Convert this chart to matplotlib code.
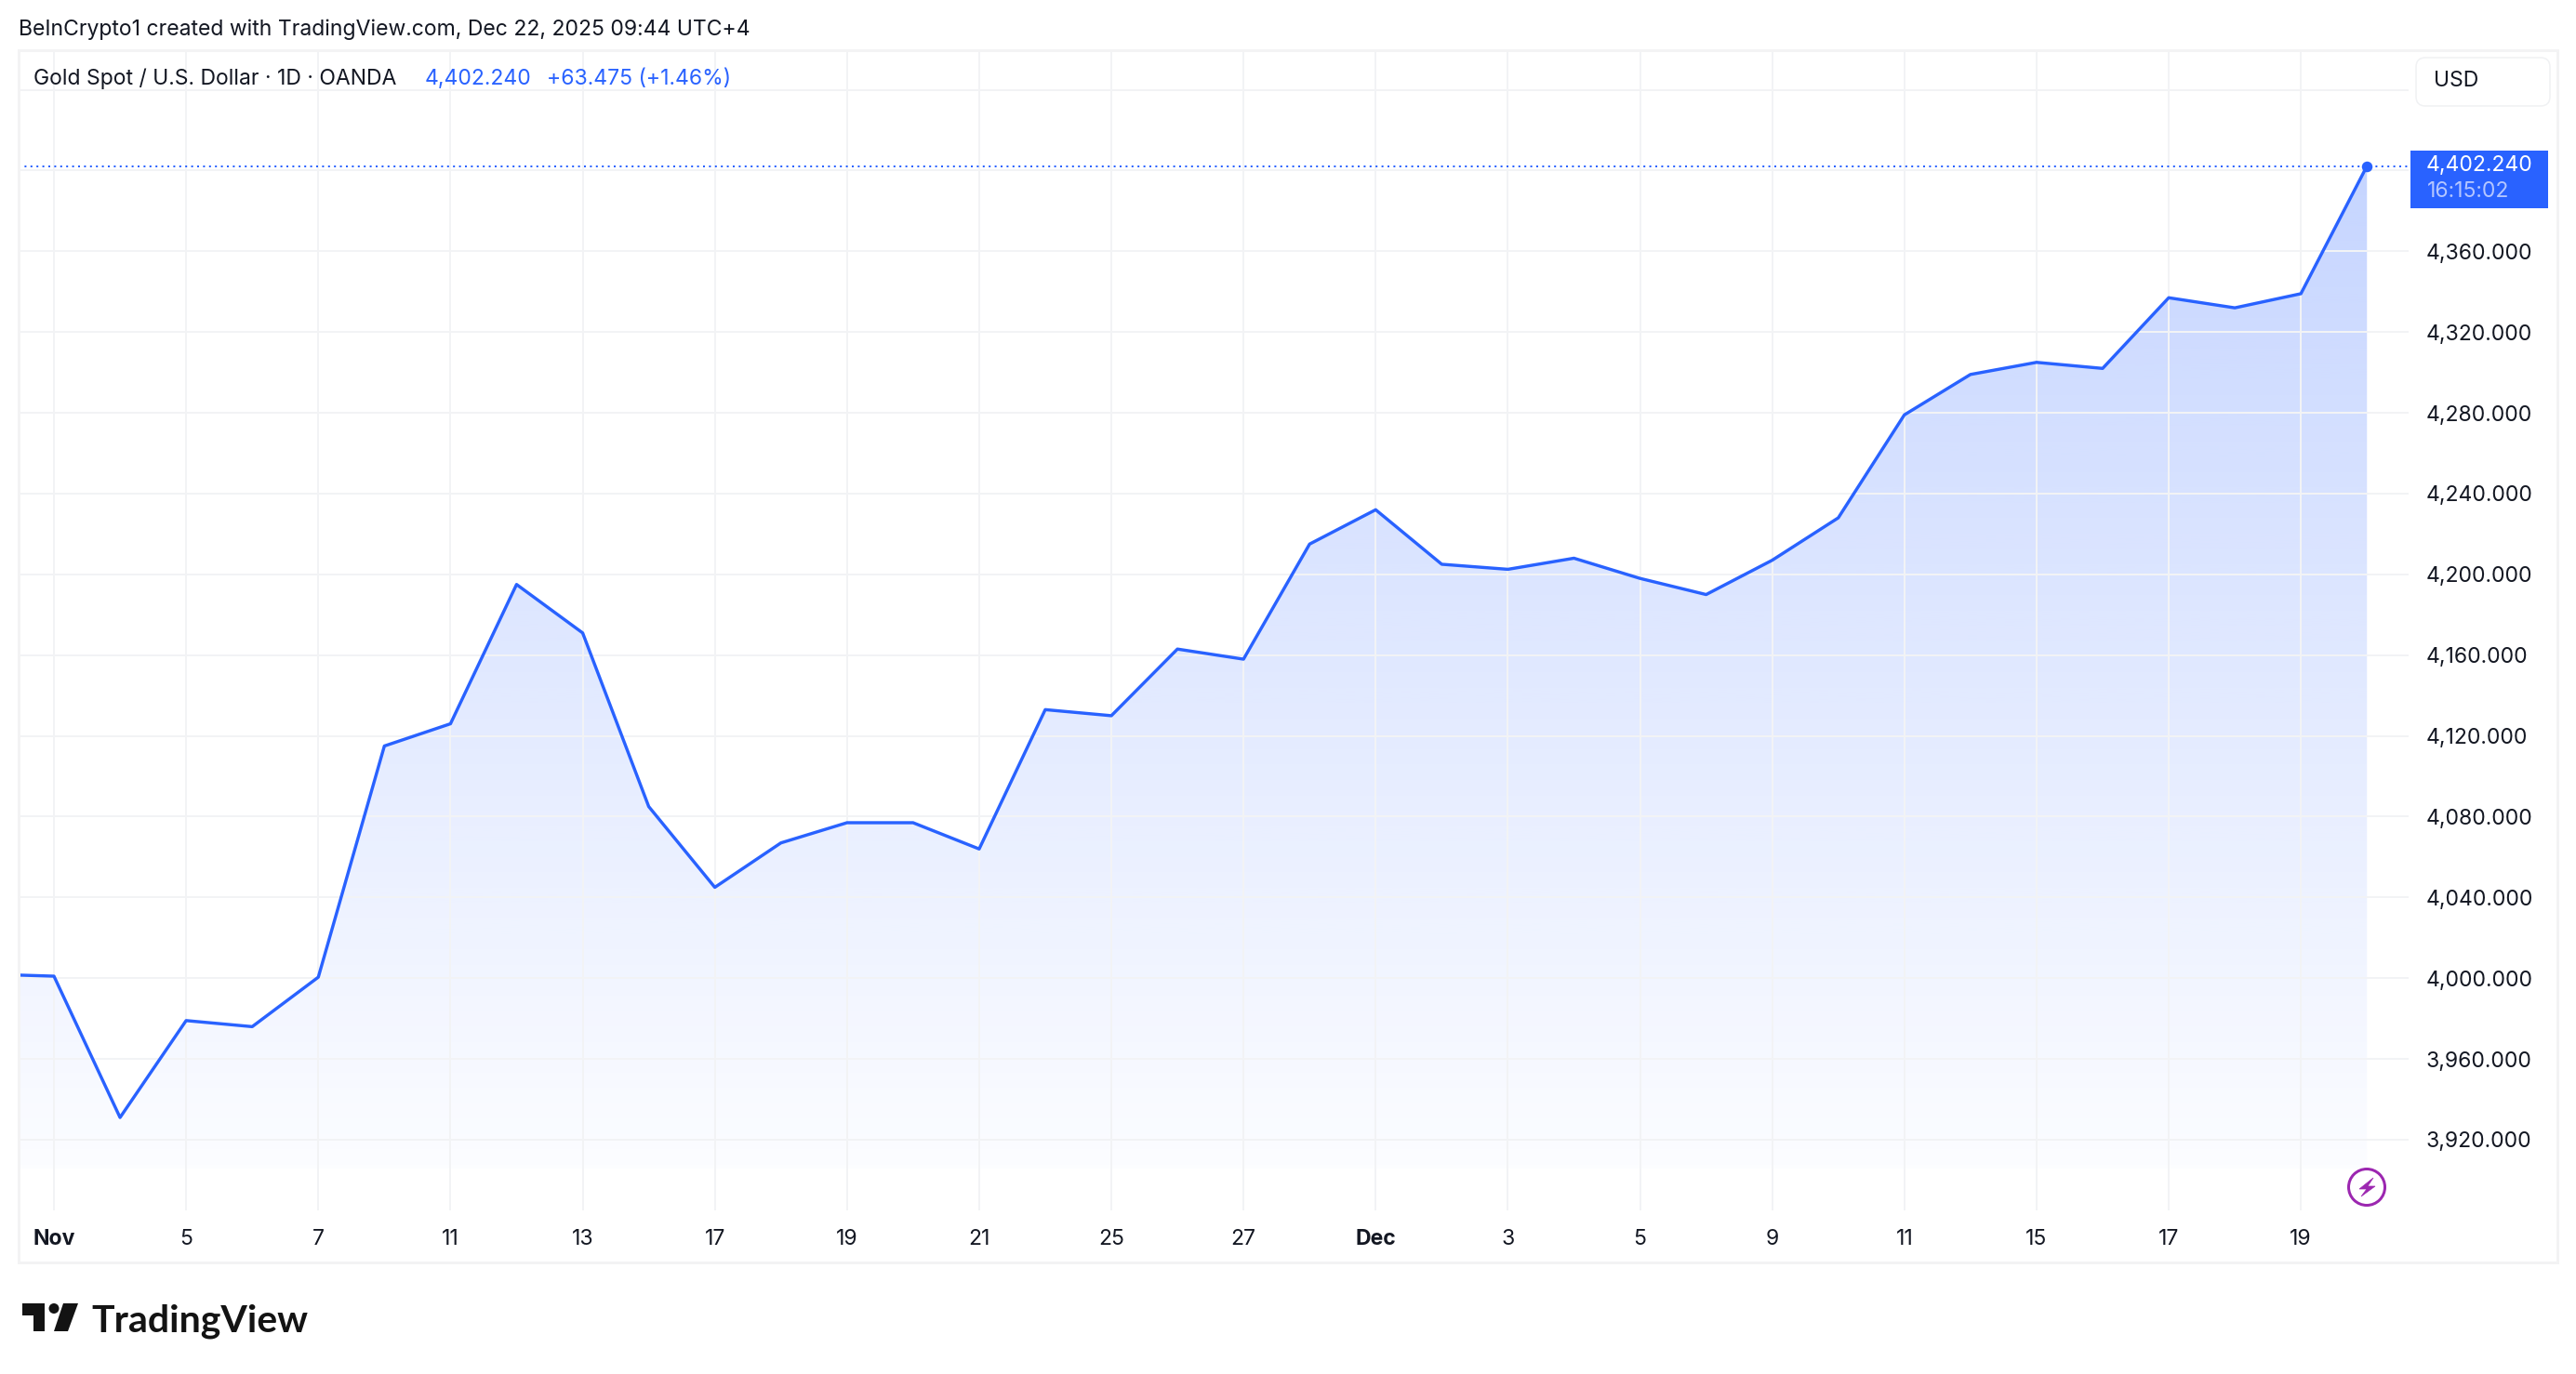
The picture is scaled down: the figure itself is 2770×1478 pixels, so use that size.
import numpy as np
import matplotlib
matplotlib.use('Agg')
import matplotlib.pyplot as plt
import matplotlib.patches as patches
from matplotlib.colors import to_rgb

plt.rcParams['font.family'] = ['Inter', 'DejaVu Sans']

# ---- data ----
# session number, 0 is the first session under the "Nov" label, -1 is cut by the left edge
sessions = list(range(-1, 36))
closes = [4002, 4001, 3931, 3979, 3976, 4000.5, 4115, 4126, 4195, 4171, 4085, 4045, 4067,
          4077, 4077, 4064, 4133, 4130, 4163, 4158, 4215, 4232, 4205, 4202.5, 4208, 4198,
          4190, 4207, 4228, 4279, 4299, 4305, 4302, 4337, 4332, 4339, 4402.24]
date_ticks = list(range(0, 35, 2))
date_labels = ['Nov', '5', '7', '11', '13', '17', '19', '21', '25', '27',
               'Dec', '3', '5', '9', '11', '15', '17', '19']
price_ticks = list(range(3920, 4400, 40))
price_labels = [f"{p:,}.000" for p in price_ticks]
hidden_grid = [4400, 4440]

BLUE = '#2962FF'
GRID = '#F2F3F5'
TEXT = '#131722'
W, H = 2770, 1478


def px(n):
    # pixels to points at dpi 100
    return n * 0.72


fig = plt.figure(figsize=(W / 100, H / 100), dpi=100, facecolor='white')

# main pane, pixel box 20..2590 / 54..1302
ax = fig.add_axes([20 / W, 1 - 1302 / H, (2590 - 20) / W, (1302 - 54) / H])
x0, x1 = -0.535, 35.63
y0, y1 = 3885, 4459.6
for s in ax.spines.values():
    s.set_visible(False)

ax.set_xticks(date_ticks, date_labels)
ax.set_yticks(price_ticks, price_labels)
ax.yaxis.tick_right()
ax.tick_params(axis='both', length=0, colors=TEXT)
ax.tick_params(axis='x', labelsize=px(23), pad=px(20))
ax.tick_params(axis='y', labelsize=px(23), pad=px(19))
for lab in ax.get_xticklabels():
    if lab.get_text() in ('Nov', 'Dec'):
        lab.set_fontweight('bold')
ax.grid(True, color=GRID, lw=px(2), zorder=0)
for g in hidden_grid:
    ax.axhline(g, color=GRID, lw=px(2), zorder=0)

# area fill, gradient clipped to the line
fill_bottom = 3905.7
rgb = to_rgb(BLUE)
n = 512
grad = np.zeros((n, 1, 4))
grad[:, 0, :3] = rgb
grad[:, 0, 3] = np.linspace(0.27, 0.015, n)
top = max(closes)
im = ax.imshow(grad, extent=[sessions[0], sessions[-1], fill_bottom, top],
               aspect='auto', origin='upper', zorder=1, interpolation='bilinear')
poly = patches.Polygon(list(zip(sessions, closes)) + [(sessions[-1], fill_bottom), (sessions[0], fill_bottom)],
                       closed=True, transform=ax.transData, fc='none', ec='none')
ax.add_patch(poly)
im.set_clip_path(poly)

ax.plot(sessions, closes, color=BLUE, lw=px(3.4), zorder=3, solid_joinstyle='round')
ax.axhline(closes[-1], color=BLUE, lw=px(2), ls=(0, (1, 2.2)), zorder=2)
ax.plot(sessions[-1:], closes[-1:], 'o', color=BLUE, ms=px(11.5), mec='none', zorder=4)
ax.set_xlim(x0, x1)
ax.set_ylim(y0, y1)

# overlay in pixel coordinates for the frame, header and logo
ov = fig.add_axes([0, 0, 1, 1], facecolor='none')
ov.set_xlim(0, W)
ov.set_ylim(H, 0)
ov.axis('off')

ov.add_patch(patches.Rectangle((20, 54), 2730, 1304, fc='none', ec='#F3F3F4', lw=px(3)))
ov.text(20, 32, 'BeInCrypto1 created with TradingView.com, Dec 22, 2025 09:44 UTC+4',
        fontsize=px(23), color=TEXT, va='center', ha='left')
ov.text(36, 85, 'Gold Spot / U.S. Dollar · 1D · OANDA', fontsize=px(23), color=TEXT, va='center')
ov.text(457, 85, '4,402.240', fontsize=px(23), color=BLUE, va='center')
ov.text(588, 85, '+63.475 (+1.46%)', fontsize=px(23), color=BLUE, va='center')

# currency button
ov.add_patch(patches.FancyBboxPatch((2606, 70), 128, 36, boxstyle='round,pad=8,rounding_size=10',
                                    fc='white', ec='#F0F1F3', lw=px(1.5)))
ov.text(2617, 87, 'USD', fontsize=px(23), color=TEXT, va='center')

# last price tag
ov.add_patch(patches.Rectangle((2592, 162), 148, 62, fc=BLUE, ec='none'))
ov.text(2609, 178, '4,402.240', fontsize=px(23), color='white', va='center')
ov.text(2610, 206, '16:15:02', fontsize=px(23), color='#B4C6FF', va='center')

# bolt badge
PURPLE = '#9C27B0'
ov.add_patch(patches.Circle((2545, 1277), 19.5, fc='white', ec=PURPLE, lw=px(3)))
ov.add_patch(patches.Polygon([(2552, 1267), (2537, 1279), (2545, 1279), (2539, 1287),
                              (2554, 1276), (2546, 1276)], closed=True, fc=PURPLE, ec=PURPLE, lw=0.5))

# logo
LOGO = '#131313'
ov.add_patch(patches.Polygon([(24, 1402), (48, 1402), (48, 1432), (36, 1432), (36, 1415), (24, 1415)],
                             closed=True, fc=LOGO, ec='none'))
ov.add_patch(patches.Circle((58, 1407.5), 5.5, fc=LOGO, ec='none'))
ov.add_patch(patches.Polygon([(68, 1402), (84, 1402), (73, 1432), (58, 1432)], closed=True, fc=LOGO, ec='none'))
ov.text(98, 1432, 'TradingView', fontsize=px(41), fontweight='bold', family='Lato', color=LOGO,
        va='baseline', ha='left')

fig.savefig('out.png', dpi=100)
